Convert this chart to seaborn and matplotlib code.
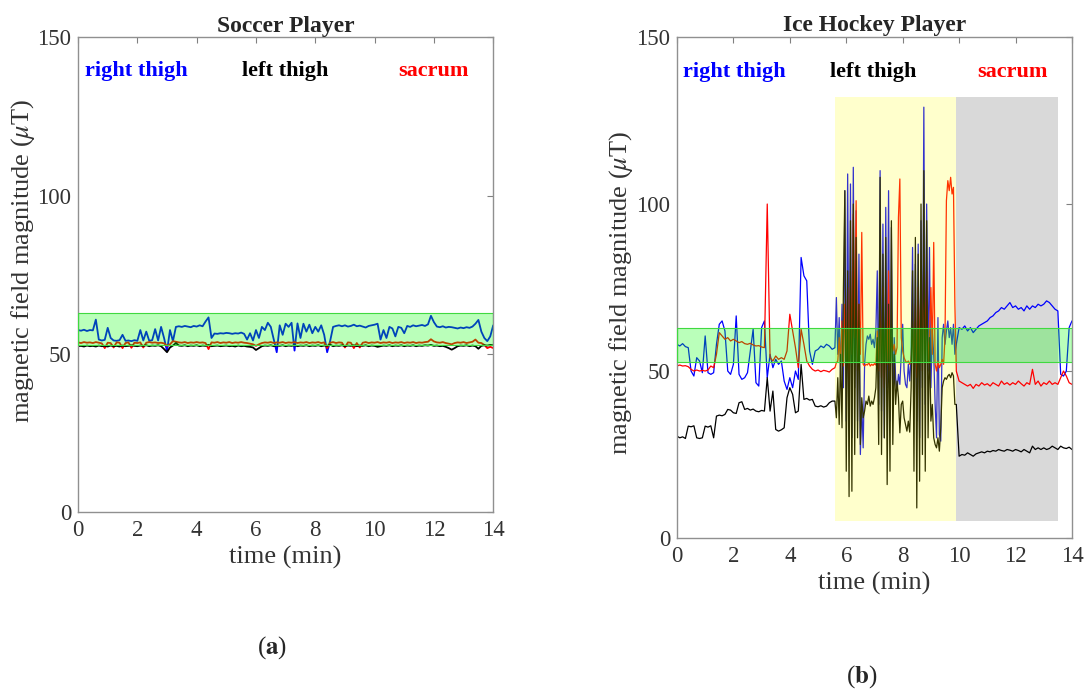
import numpy as np
import matplotlib
matplotlib.use("Agg")
import matplotlib.pyplot as plt
import seaborn as sns

# soccer player, one reading every 0.1 min
soccer_t = np.round(np.linspace(0, 14, 141), 2)
soccer_right = [
    57.5, 57.3, 57.6, 57.2, 57.5, 57.4, 60.8, 54.5, 54.2, 54.4,
    58.2, 55.0, 54.2, 54.1, 54.3, 56.0, 54.1, 54.2, 54.0, 54.3,
    54.1, 57.5, 54.2, 57.0, 54.1, 54.3, 57.8, 54.2, 58.5, 55.0,
    50.8, 57.5, 54.0, 58.5, 58.7, 58.5, 58.8, 58.6, 58.4, 58.8,
    58.6, 59.0, 58.7, 60.2, 61.5, 55.0, 56.4, 56.3, 56.5, 56.4,
    56.6, 56.5, 56.3, 56.5, 56.4, 56.7, 56.3, 54.5, 56.5, 54.2,
    57.5, 55.0, 58.5, 57.5, 59.8, 58.5, 54.5, 50.5, 59.0, 56.0,
    59.5, 58.5, 59.8, 51.0, 59.6, 55.0, 59.5, 57.0, 59.2, 56.5,
    58.5, 57.0, 59.0, 56.0, 50.5, 54.0, 58.5, 58.8, 59.0, 58.7,
    59.0, 58.6, 58.8, 59.2, 58.7, 58.9, 58.6, 58.3, 58.8, 59.0,
    59.2, 59.5, 54.5, 57.5, 55.0, 58.5, 58.0, 55.5, 58.5, 58.2,
    56.5, 58.8, 58.5, 59.0, 58.7, 58.9, 59.1, 58.8, 59.3, 62.0,
    60.0, 58.6, 58.4, 58.7, 58.3, 58.5, 58.4, 58.2, 58.0, 58.3,
    58.1, 58.4, 58.2, 58.6, 59.5, 60.7, 57.0, 55.0, 54.0, 55.5,
    59.0,
]
soccer_left = [
    52.4, 52.5, 52.3, 52.6, 52.4, 52.5, 52.3, 52.6, 52.4, 52.5,
    52.3, 52.6, 52.4, 52.5, 52.3, 52.6, 52.4, 52.5, 52.7, 52.5,
    52.4, 52.6, 52.5, 52.7, 52.4, 52.6, 52.5, 52.7, 52.4, 51.5,
    50.5, 52.0, 52.6, 53.4, 52.6, 52.5, 52.7, 52.4, 52.6, 52.5,
    52.7, 52.4, 52.6, 52.5, 52.8, 52.4, 52.5, 52.6, 52.4, 52.5,
    52.6, 52.4, 52.5, 52.3, 52.6, 52.4, 52.5, 52.3, 52.2, 52.0,
    51.2, 51.8, 52.4, 52.6, 52.5, 52.7, 52.4, 52.6, 52.5, 52.7,
    52.4, 52.6, 52.5, 52.7, 52.4, 52.6, 52.5, 52.7, 52.4, 52.6,
    52.5, 52.7, 52.4, 52.6, 52.5, 52.9, 52.4, 52.6, 52.5, 52.7,
    52.4, 52.6, 52.5, 52.7, 52.4, 52.6, 52.5, 52.7, 52.4, 52.6,
    52.5, 52.2, 52.4, 52.6, 52.5, 52.7, 52.4, 52.6, 52.5, 52.7,
    52.4, 52.6, 52.5, 52.7, 52.4, 52.6, 52.5, 52.7, 52.6, 52.8,
    52.5, 52.6, 52.4, 52.5, 52.2, 51.8, 51.3, 51.8, 52.4, 52.6,
    52.5, 52.7, 52.4, 52.6, 52.4, 51.6, 52.5, 52.7, 52.6, 52.8,
    52.7,
]
soccer_sacrum = [
    53.6, 53.4, 53.7, 53.5, 53.6, 53.4, 53.7, 53.5, 53.3, 51.8,
    53.5, 53.4, 52.0, 53.6, 53.5, 51.8, 53.4, 53.6, 51.9, 53.5,
    53.4, 53.6, 52.0, 53.5, 53.7, 53.5, 53.6, 53.4, 53.5, 53.3,
    52.5, 53.0, 54.0, 53.8, 53.6, 53.5, 53.7, 53.4, 53.6, 53.5,
    53.7, 53.5, 53.6, 53.4, 51.5, 53.6, 53.5, 53.7, 53.4, 53.6,
    53.5, 53.7, 53.4, 53.6, 53.5, 53.7, 53.5, 53.4, 53.2, 53.0,
    52.5, 53.0, 53.4, 53.6, 53.5, 53.7, 53.4, 53.6, 53.5, 53.7,
    53.4, 53.6, 53.5, 53.7, 53.4, 53.6, 53.5, 53.7, 53.4, 53.6,
    53.5, 53.7, 53.4, 53.6, 51.8, 53.5, 53.7, 53.4, 53.6, 53.5,
    52.0, 53.6, 53.5, 51.8, 53.4, 52.0, 53.5, 53.7, 53.4, 53.6,
    53.5, 53.7, 53.4, 53.6, 53.5, 53.7, 53.4, 53.6, 53.5, 53.7,
    53.4, 53.6, 53.5, 53.7, 53.4, 53.6, 53.5, 53.7, 53.8, 54.6,
    53.9, 53.6, 53.5, 53.7, 53.4, 53.2, 53.0, 53.4, 53.6, 53.5,
    53.7, 53.4, 53.6, 53.8, 54.5, 53.5, 53.4, 52.8, 51.8, 52.2,
    51.8,
]

# ice hockey player: every 0.1 min, every 0.05 min during the bursts
hockey_t = np.round(np.concatenate([
    np.linspace(0, 5.5, 56),
    np.linspace(5.6, 9.85, 86),
    np.linspace(9.9, 14.0, 42),
]), 2)
hockey_right = [
    # 0 - 5.5 min
    58.0, 57.5, 58.2, 57.3, 57.0, 50.0, 48.5, 54.0, 53.0, 49.5,
    60.5, 49.5, 49.0, 49.5, 58.0, 64.0, 65.0, 62.0, 50.0, 49.0,
    52.0, 66.5, 49.0, 47.5, 48.0, 49.5, 56.0, 62.5, 46.5, 45.5,
    63.0, 65.0, 48.0, 55.0, 51.0, 53.5, 52.0, 53.0, 47.0, 44.5,
    48.0, 45.0, 50.0, 47.5, 84.0, 78.5, 77.0, 56.0, 52.0, 56.0,
    56.5, 57.5, 57.0, 58.0, 57.5, 56.5,
    # 5.6 - 9.85 min
    57.0, 72.0, 55.0, 66.0, 48.0, 70.0, 45.0, 104.0, 35.0, 109.0,
    40.0, 106.0, 30.0, 111.0, 45.0, 98.0, 35.0, 85.0, 25.0, 40.0,
    27.0, 52.0, 58.0, 60.5, 59.5, 61.0, 58.0, 59.5, 57.0, 62.0,
    80.0, 40.0, 110.0, 38.0, 94.0, 30.0, 99.0, 45.0, 104.0, 35.0,
    93.0, 40.0, 60.0, 48.0, 44.0, 49.0, 46.0, 55.0, 64.0, 50.0,
    46.0, 45.0, 52.0, 47.0, 55.0, 87.0, 40.0, 82.0, 35.0, 88.0,
    30.0, 95.0, 45.0, 129.0, 40.0, 100.0, 50.0, 87.0, 45.0, 62.0,
    55.0, 40.0, 30.0, 66.0, 31.0, 29.0, 60.0, 64.0, 58.0, 62.0,
    65.0, 60.0, 63.0, 58.0, 64.0, 55.0,
    # 9.9 - 14 min
    58.0, 63.0, 62.5, 63.5, 62.0, 63.0, 61.5, 62.5, 63.5, 64.0,
    64.5, 65.0, 66.0, 66.5, 67.5, 68.0, 69.0, 68.5, 69.5, 70.5,
    69.0, 69.5, 68.5, 69.0, 68.0, 69.5, 68.5, 69.5, 69.0, 70.0,
    69.5, 70.0, 71.0, 70.5, 69.5, 68.5, 68.0, 49.0, 48.5, 50.0,
    63.0, 65.0,
]
hockey_left = [
    30.5, 30.0, 30.3, 29.8, 33.5, 33.3, 33.6, 30.0, 29.8, 30.0,
    33.5, 33.2, 33.6, 30.0, 36.5, 36.8, 36.6, 37.0, 38.5, 38.3,
    37.5, 37.3, 40.5, 40.8, 38.5, 38.8, 38.3, 38.6, 38.0, 37.8,
    38.2, 38.0, 48.0, 38.0, 44.0, 32.5, 32.0, 32.4, 33.0, 42.0,
    45.0, 43.0, 37.5, 38.0, 52.0, 41.5, 41.8, 41.3, 41.5, 39.5,
    39.3, 39.6, 39.2, 39.5, 40.5, 41.0,
    41.0, 36.0, 48.0, 34.0, 55.0, 33.0, 75.0, 104.0, 20.0, 80.0,
    12.4, 95.0, 14.0, 100.0, 25.0, 90.0, 30.0, 70.0, 28.0, 42.0,
    36.0, 38.0, 41.0, 40.0, 42.5, 39.5, 41.0, 40.0, 42.0, 45.0,
    60.0, 28.0, 108.0, 25.0, 85.0, 30.0, 90.0, 16.0, 70.0, 20.0,
    95.0, 28.0, 55.0, 40.0, 47.0, 42.0, 31.5, 40.0, 41.0, 36.0,
    34.0, 32.0, 35.0, 31.7, 45.0, 80.0, 20.0, 90.0, 9.0, 85.0,
    17.0, 100.0, 25.0, 110.0, 20.0, 95.0, 30.0, 60.0, 35.0, 40.0,
    30.0, 28.0, 27.0, 30.0, 26.0, 33.0, 45.0, 47.0, 48.0, 47.5,
    48.5, 49.0, 48.0, 49.5, 48.5, 40.0,
    40.0, 24.5, 25.0, 24.8, 25.5, 25.0, 24.5, 25.2, 25.5, 25.8,
    25.5, 26.0, 25.8, 26.2, 26.0, 26.5, 26.2, 26.0, 26.5, 26.3,
    26.0, 26.5, 26.2, 25.8, 26.5, 26.0, 25.5, 27.5, 26.5, 27.0,
    26.5, 27.0, 26.5, 26.8, 27.5, 27.0, 26.5, 27.5, 27.0, 26.8,
    27.2, 26.5,
]
hockey_sacrum = [
    51.5, 51.8, 51.5, 51.6, 51.3, 50.5, 50.0, 50.3, 50.0, 50.2,
    50.0, 50.3, 51.5, 51.0, 55.0, 61.5, 60.5, 59.5, 60.0, 59.0,
    59.5, 59.0, 58.5, 58.8, 58.2, 58.0, 58.3, 57.8, 57.5, 57.6,
    57.2, 57.0, 100.0, 54.0, 53.0, 54.5, 53.5, 54.0, 53.5, 56.0,
    67.0, 62.0, 57.0, 51.0, 62.5, 58.0, 53.0, 51.5, 50.5, 50.0,
    50.3, 49.8, 50.2, 50.0, 49.7, 50.5,
    51.0, 52.5, 53.0, 60.0, 52.0, 65.0, 51.5, 70.0, 52.0, 75.0,
    45.0, 80.0, 55.0, 97.0, 60.0, 101.0, 50.0, 70.0, 55.0, 91.5,
    52.0, 51.5, 52.0, 51.8, 52.5, 51.5, 52.0, 51.7, 52.2, 51.8,
    62.0, 50.0, 70.0, 48.0, 75.0, 45.0, 65.0, 52.0, 80.0, 50.0,
    60.0, 56.0, 58.0, 55.0, 57.0, 96.0, 107.5, 60.0, 56.0, 54.0,
    53.0, 52.5, 53.0, 52.0, 53.5, 65.0, 50.0, 70.0, 48.0, 75.0,
    52.0, 78.0, 50.0, 85.0, 55.0, 80.0, 52.0, 60.0, 75.0, 55.0,
    88.5, 52.0, 50.0, 53.0, 51.0, 52.0, 53.5, 52.0, 60.0, 101.0,
    107.0, 104.0, 108.0, 103.0, 105.0, 70.0,
    50.0, 47.0, 46.5, 46.0, 45.5, 46.0, 44.8, 46.0, 45.5, 46.5,
    45.8, 46.2, 45.5, 46.5, 46.0, 45.5, 47.0, 46.0, 46.5, 45.8,
    46.5, 46.0, 47.0, 46.2, 45.5, 46.5, 46.0, 50.5, 46.0, 47.0,
    45.5, 46.5, 46.0, 47.0, 46.0, 46.5, 46.0, 48.0, 50.0, 48.5,
    46.5, 46.0,
]

band = (52.7, 62.8)
names = ["right thigh", "left thigh", "sacrum"]
colors = ["#0000ff", "#000000", "#ff0000"]

sns.set_style("white")
plt.rcParams["font.family"] = ["Liberation Serif", "DejaVu Serif"]
plt.rcParams["mathtext.fontset"] = "stix"


def draw_panel(ax, t, right, left, sacrum, title, lw, label_x, ylab_xy):
    for vals, col in [(right, colors[0]), (sacrum, colors[2]), (left, colors[1])]:
        sns.lineplot(x=t, y=vals, color=col, lw=lw, ax=ax,
                     estimator=None, sort=False, legend=False)
    ax.axhspan(band[0], band[1], facecolor=(0, 1, 0, 0.27),
               edgecolor=(0.25, 0.85, 0.25), lw=0.8, zorder=5)
    ax.set_xlim(0, 14)
    ax.set_ylim(0, 150)
    ax.set_xticks(range(0, 15, 2))
    ax.set_yticks([0, 50, 100, 150])
    ax.tick_params(direction="in", top=True, right=True, labelsize=16.5,
                   length=4, color="#808080", labelcolor="#333333")
    ax.tick_params(axis="x", pad=6)
    ax.tick_params(axis="y", pad=5)
    for sp in ax.spines.values():
        sp.set_color("#909090")
        sp.set_linewidth(1.0)
    ax.set_title(title, fontweight="bold", fontsize=17, pad=4)
    ax.set_xlabel("time (min)", fontsize=19, labelpad=3, color="#333333")
    ax.set_ylabel(r"magnetic field magnitude ($\mu$T)", fontsize=19,
                  color="#333333")
    ax.yaxis.set_label_coords(*ylab_xy)
    has = ["left", "center", "center"]
    for name, col, x, ha in zip(names, colors, label_x, has):
        ax.text(x, 139.5, name, color=col, fontsize=16, fontweight="bold",
                ha=ha, va="center")


fig = plt.figure(figsize=(10.84, 6.91), dpi=100)
ax1 = fig.add_axes([0.072, 0.259, 0.383, 0.687])
ax2 = fig.add_axes([0.6245, 0.2214, 0.3644, 0.725])

draw_panel(ax1, soccer_t, soccer_right, soccer_left, soccer_sacrum,
           "Soccer Player", 1.3, [0.25, 7.0, 12.0], (-0.1, 0.53))
draw_panel(ax2, hockey_t, hockey_right, hockey_left, hockey_sacrum,
           "Ice Hockey Player", 0.9, [0.2, 6.95, 11.9], (-0.105, 0.49))

# activity phases of the hockey session
ax2.axvspan(5.6, 9.9, ymin=5 / 150, ymax=132 / 150, facecolor=(1, 1, 0, 0.2),
            edgecolor="none", zorder=4)
ax2.axvspan(9.9, 13.5, ymin=5 / 150, ymax=132 / 150, facecolor="#d9d9d9",
            edgecolor="none", zorder=0)

fig.text(272 / 1084, 1 - 648 / 691, r"($\mathbf{a}$)", fontsize=18,
         ha="center", va="center")
fig.text(862 / 1084, 1 - 677 / 691, r"($\mathbf{b}$)", fontsize=18,
         ha="center", va="center")

fig.savefig("out.png", dpi=100)
